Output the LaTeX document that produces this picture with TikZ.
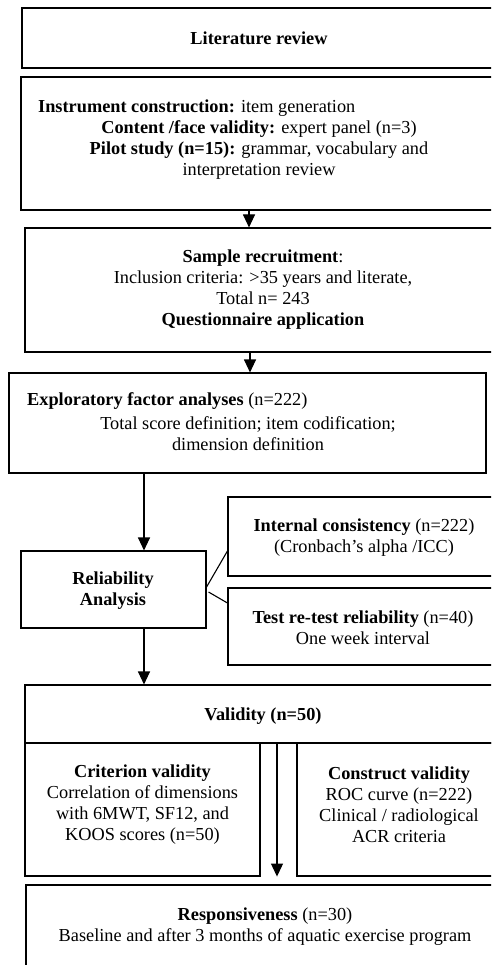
\documentclass[tikz,border=0pt]{standalone}
\usepackage{fontspec}
\setmainfont{Liberation Serif}
\usetikzlibrary{arrows.meta}

\tikzset{
  blk/.style={draw=black, line width=1.1pt, inner sep=0pt},
  txt/.style={inner sep=0pt, align=center, font=\fontsize{18.3}{21}\selectfont},
  arr/.style={line width=1.1pt, -{Triangle[length=13pt,width=12pt]}},
  lnk/.style={line width=1.1pt}
}

\begin{document}
\begin{tikzpicture}[x=1pt,y=-1pt]
 \useasboundingbox (0,0) rectangle (491,965);
 \clip (0,0) rectangle (491,965);

 %Boxes
 \node[blk, minimum width=498, minimum height=60]  (lit)  at (271,38) {};
 \node[blk, minimum width=499, minimum height=133] (inst) at (270.5,143.5) {};
 \node[blk, minimum width=495, minimum height=124] (samp) at (272.5,290) {};
 \node[blk, minimum width=477, minimum height=100] (efa)  at (247.5,423) {};
 \node[blk, minimum width=185, minimum height=77]  (rel)  at (113.5,589.5) {};
 \node[blk, minimum width=292, minimum height=79]  (ic)   at (374,536.5) {};
 \node[blk, minimum width=292, minimum height=77]  (trt)  at (374,626.5) {};
 \node[blk, minimum width=495, minimum height=58]  (val)  at (272.5,714) {};
 \node[blk, minimum width=235, minimum height=133] (crit) at (142.5,809.5) {};
 \node[blk, minimum width=223, minimum height=133] (cons) at (408.5,809.5) {};
 \node[blk, minimum width=494, minimum height=115] (resp) at (273,942.5) {};

 %Texts
 \node[txt] (littext) at (259,38) {\textbf{Literature review}};
 \node[txt, anchor=west] (insttexta) at (38,108) {\textbf{Instrument construction:} item generation};
 \node[txt] (insttextb) at (259,150) {\textbf{Content /face validity:} expert panel (n=3)\\
   \textbf{Pilot study (n=15):} grammar, vocabulary and\\ interpretation review};
 \node[txt] (samptext) at (263,289.5) {\textbf{Sample recruitment}:\\
   Inclusion criteria: >35 years and literate,\\ Total n= 243\\ \textbf{Questionnaire application}};
 \node[txt, anchor=west] (efatexta) at (27,401) {\textbf{Exploratory factor analyses} (n=222)};
 \node[txt] (efatextb) at (248,434) {Total score definition; item codification;\\ dimension definition};
 \node[txt] (reltext) at (113,590.5) {\textbf{Reliability}\\ \textbf{Analysis}};
 \node[txt] (ictext) at (364,538) {\textbf{Internal consistency} (n=222)\\ (Cronbach’s alpha /ICC)};
 \node[txt] (trttext) at (363,627.5) {\textbf{Test re-test reliability} (n=40)\\ One week interval};
 \node[txt] (valtext) at (263,716) {\textbf{Validity (n=50)}};
 \node[txt] (crittext) at (142.5,804.5) {\textbf{Criterion validity}\\ Correlation of dimensions\\
   with 6MWT, SF12, and\\ KOOS scores (n=50)};
 \node[txt] (constext) at (399,804.5) {\textbf{Construct validity}\\ ROC curve (n=222)\\
   Clinical / radiological\\ ACR criteria};
 \node[txt] (resptext) at (265,926.5) {\textbf{Responsiveness} (n=30)\\
   Baseline and after 3 months of aquatic exercise program};

 %Arrow columns
 \coordinate (colA) at (249,0);
 \coordinate (colB) at (250,0);
 \coordinate (colC) at (144,0);
 \coordinate (colD) at (277,0);

 %Arrows
 \draw[arr] (inst.south -| colA) -- (samp.north -| colA);
 \draw[arr] (samp.south -| colB) -- (efa.north -| colB);
 \draw[arr] (efa.south -| colC) -- (rel.north -| colC);
 \draw[arr] (rel.south -| colC) -- (val.north -| colC);
 \draw[arr] (val.south -| colD) -- (crit.south -| colD);
 \draw[lnk] ([yshift=2.5pt]rel.east) -- ([yshift=-14.5pt]ic.west);
 \draw[lnk] ([yshift=-2.5pt,xshift=2pt]rel.east) -- ([yshift=23.5pt]trt.west);
\end{tikzpicture}
\end{document}
